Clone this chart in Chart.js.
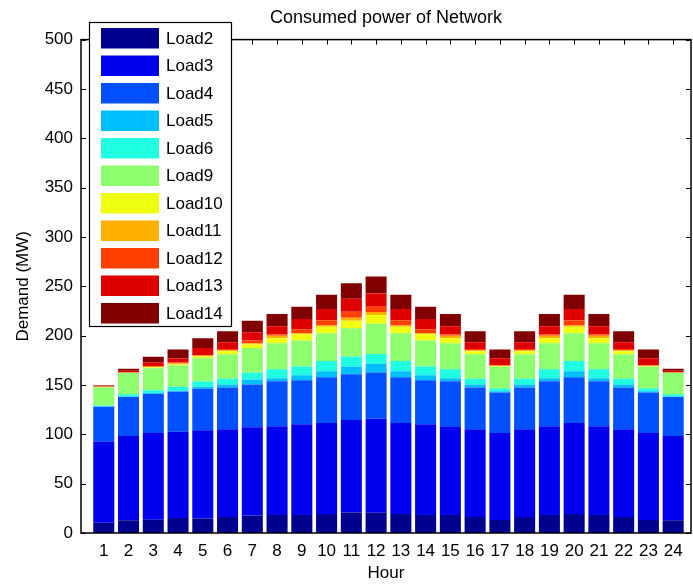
<!DOCTYPE html>
<html><head><meta charset="utf-8">
<script src="https://cdn.jsdelivr.net/npm/chart.js@4/dist/chart.umd.min.js"></script>
<style>html,body{margin:0;padding:0;background:#fff}</style>
</head><body>
<canvas id="c" width="693" height="588"></canvas>
<script>
const hours = [1,2,3,4,5,6,7,8,9,10,11,12,13,14,15,16,17,18,19,20,21,22,23,24];
const yTicks = [0,50,100,150,200,250,300,350,400,450,500];
const seriesNames = ['Load2','Load3','Load4','Load5','Load6','Load9','Load10','Load11','Load12','Load13','Load14'];
const seriesColors = ['#00008F','#0000EF','#0050FF','#00BFFF','#20FFDF','#8FFF70','#EFFF10','#FFAF00','#FF4000','#DF0000','#800000'];

const load2  = [10.4,13,13.5,15.2,14.8,16.2,17.8,18.2,18.2,19.2,20.9,20.5,19.2,18.2,18.2,16.2,13.1,16.2,18.2,19.2,18.2,16.2,13.1,13];
const load3  = [82.2,85.3,87.8,87.5,89.2,88.9,89.3,89.9,91.9,92.2,93.5,95.3,92.2,91.9,89.9,88.9,88.2,88.9,89.9,92.2,89.9,88.9,88.2,85.3];
const load4  = [35.3,39.6,39.7,40.4,42.1,42.4,43.4,45.8,44.8,46.5,46.5,46.8,46.5,44.8,45.8,42.4,41,42.4,45.8,46.5,45.8,42.4,41,39.6];
const load5  = [0.4,0.5,0.5,1,2.1,3,5.1,3,5,6.1,7.8,8.8,6.1,5,3,3,1.4,3,3,6.1,3,3,1.4,0.5];
const load6  = [0.9,2.2,3.2,4.1,5.3,5.7,6.7,9.1,8.8,10.4,10.1,10.1,10.4,8.8,9.1,5.7,2.7,5.7,9.1,10.4,9.1,5.7,2.7,2.2];
const load9  = [18.5,21.7,22.3,21.5,23.6,24.9,25.2,26.3,26.3,28,28.6,30.6,28,26.3,26.3,24.9,22,24.9,26.3,28,26.3,24.9,22,21.7];
const load10 = [0.2,0.2,1,1.3,2.1,3.2,3.4,5,6.3,6.6,7.8,8.8,6.6,6.3,5,3.2,0.8,3.2,5,6.6,5,3.2,0.8,0.2];
const load11 = [0.2,0.1,0.4,0.7,0.5,0.8,1.4,2.7,1.1,1.4,3,3,1.4,1.1,2.7,0.8,0.4,0.8,2.7,1.4,2.7,0.8,0.4,0.1];
const load12 = [0.3,0.1,0.6,1,0.4,1.4,2.7,1.3,4,5.1,6,5.4,5.1,4,1.3,1.4,0.4,1.4,1.3,5.1,1.3,1.4,0.4,0.1];
const load13 = [0.8,1.6,4.1,4.1,7.4,6.8,8.4,8.1,10.4,11.5,13.2,13.4,11.5,10.4,8.1,6.8,7.1,6.8,8.1,11.5,8.1,6.8,7.1,1.6];
const load14 = [0.6,2.2,5.4,9.1,9.8,11.1,11.8,12.5,12.5,14.4,15.8,17.2,14.4,12.5,12.5,11.1,8.8,11.1,12.5,14.4,12.5,11.1,8.8,2.2];

const seriesValues = [load2,load3,load4,load5,load6,load9,load10,load11,load12,load13,load14];
const FONT = "'Liberation Sans', Arial, Helvetica, sans-serif";

const datasets = seriesNames.map((name, k) => ({
  label: name,
  data: hours.map((h, i) => ({x: h, y: seriesValues[k][i]})),
  backgroundColor: seriesColors[k],
  borderWidth: 0,
  categoryPercentage: 1.0,
  barPercentage: 0.85
}));

const framePlugin = {
  id: 'frame',
  beforeDatasetsDraw(chart) {
    const {ctx, chartArea: a, scales: {x, y}} = chart;
    ctx.save();
    ctx.strokeStyle = '#000';
    ctx.lineWidth = 1;
    ctx.beginPath();
    yTicks.forEach(v => {
      const py = Math.round(y.getPixelForValue(v)) + 0.5;
      ctx.moveTo(a.left, py); ctx.lineTo(a.left + 5, py);
      ctx.moveTo(a.right, py); ctx.lineTo(a.right - 5, py);
    });
    hours.forEach(h => {
      const px = Math.round(x.getPixelForValue(h)) + 0.5;
      ctx.moveTo(px, a.top); ctx.lineTo(px, a.top + 5);
      ctx.moveTo(px, a.bottom); ctx.lineTo(px, a.bottom - 5);
    });
    ctx.stroke();
    ctx.restore();
  },
  afterDatasetsDraw(chart) {
    const {ctx, chartArea: a} = chart;
    ctx.save();
    ctx.strokeStyle = '#000';
    ctx.lineWidth = 1.5;
    ctx.strokeRect(a.left, a.top, a.right - a.left, a.bottom - a.top);
    ctx.restore();
  },
  afterDraw(chart) {
    const ctx = chart.ctx;
    const lx = 89, ly = 22, lw = 142, lh = 304;
    ctx.save();
    ctx.fillStyle = '#fff';
    ctx.fillRect(lx, ly, lw, lh);
    ctx.strokeStyle = '#000';
    ctx.lineWidth = 1.2;
    ctx.strokeRect(lx + 0.5, ly + 0.5, lw, lh);
    ctx.font = '17px ' + FONT;
    ctx.textBaseline = 'middle';
    ctx.textAlign = 'left';
    chart.data.datasets.forEach((ds, i) => {
      const sy = 28 + i * 27.5;
      ctx.fillStyle = ds.backgroundColor;
      ctx.fillRect(101, sy, 58, 20.5);
      ctx.fillStyle = '#000';
      ctx.fillText(ds.label, 166, sy + 11);
    });
    ctx.restore();
  }
};

new Chart(document.getElementById('c'), {
  type: 'bar',
  data: { datasets },
  options: {
    responsive: false,
    animation: false,
    devicePixelRatio: 1,
    layout: { padding: { left: 0, right: 2, top: 0, bottom: 0 } },
    plugins: {
      legend: { display: false },
      tooltip: { enabled: false },
      title: {
        display: true,
        fullSize: false,
        text: 'Consumed power of Network',
        color: '#000',
        font: { family: FONT, size: 18, weight: 'normal' },
        padding: { top: 7, bottom: 11 }
      }
    },
    scales: {
      x: {
        type: 'linear',
        min: 0.08,
        max: 24.72,
        stacked: true,
        offset: false,
        grid: { display: false, drawTicks: false },
        border: { display: false },
        afterBuildTicks: s => { s.ticks = hours.map(h => ({ value: h })); },
        afterFit: s => { s.height = 55; },
        ticks: {
          autoSkip: false, maxRotation: 0, minRotation: 0,
          color: '#000', padding: 8,
          font: { family: FONT, size: 17 },
          callback: v => String(v)
        },
        title: {
          display: true, text: 'Hour', color: '#000',
          font: { family: FONT, size: 17 },
          padding: { top: 0, bottom: 4 }
        }
      },
      y: {
        min: 0, max: 500,
        stacked: true,
        grid: { display: false, drawTicks: false },
        border: { display: false },
        afterBuildTicks: s => { s.ticks = yTicks.map(v => ({ value: v })); },
        afterFit: s => { s.width = 81; },
        ticks: {
          color: '#000', padding: 8,
          font: { family: FONT, size: 17 }
        },
        title: {
          display: true, text: 'Demand (MW)', color: '#000',
          font: { family: FONT, size: 17 },
          padding: { top: 13, bottom: 0 }
        }
      }
    }
  },
  plugins: [framePlugin]
});
</script>
</body></html>
